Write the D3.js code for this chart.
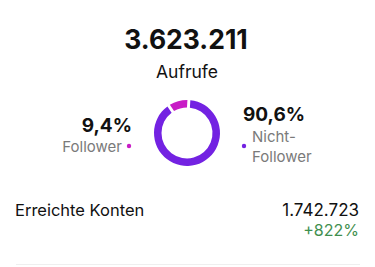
<!DOCTYPE html>
<html>
<head>
<meta charset="utf-8">
<script src="https://cdn.jsdelivr.net/npm/d3@7"></script>
<style>
html,body{margin:0;padding:0;background:#fff;}
svg{display:block;font-family:Inter,"Noto Sans",sans-serif;}
</style>
</head>
<body>
<svg id="chart" width="375" height="267"></svg>
<script>
const categories = ["Follower", "Nicht-Follower"];
const shares = [9.4, 90.6];
const shareLabels = ["9,4%", "90,6%"];
const colors = ["#c81cc6", "#7322e2"];
const totalViews = "3.623.211";
const totalLabel = "Aufrufe";
const reachLabel = "Erreichte Konten";
const reachValue = "1.742.723";
const reachChange = "+822%";

const svg = d3.select("#chart");
const cx = 187, cy = 133, rOuter = 33, rInner = 25.5;

svg.append("text").attr("x", cx - 1).attr("y", 49).attr("text-anchor", "middle")
  .attr("font-size", 26.5).attr("font-weight", 700).attr("fill", "#111").text(totalViews);
svg.append("text").attr("x", cx).attr("y", 78).attr("text-anchor", "middle")
  .attr("font-size", 17.5).attr("fill", "#111").text(totalLabel);

const start = -shares[0] / 100 * 2 * Math.PI;
const pie = d3.pie().sort(null).startAngle(start).endAngle(start + 2 * Math.PI).padAngle(0.07);
const arc = d3.arc().innerRadius(rInner).outerRadius(rOuter);
svg.append("g").attr("transform", `translate(${cx},${cy})`)
  .selectAll("path").data(pie(shares)).join("path")
  .attr("d", arc).attr("fill", (d, i) => colors[i]);

// Left label (Follower)
svg.append("text").attr("x", 132).attr("y", 132).attr("text-anchor", "end")
  .attr("font-size", 19).attr("font-weight", 700).attr("fill", "#111").text(shareLabels[0]);
svg.append("text").attr("x", 122).attr("y", 152).attr("text-anchor", "end")
  .attr("font-size", 15).attr("fill", "#7a7a7a").text(categories[0]);
svg.append("circle").attr("cx", 129).attr("cy", 146).attr("r", 2.2).attr("fill", colors[0]);

// Right label (Nicht-Follower)
svg.append("text").attr("x", 243).attr("y", 121)
  .attr("font-size", 19).attr("font-weight", 700).attr("fill", "#111").text(shareLabels[1]);
const parts = categories[1].split("-");
const t = svg.append("text").attr("x", 252).attr("y", 142).attr("font-size", 15).attr("fill", "#7a7a7a");
t.append("tspan").attr("x", 252).attr("y", 142).text(parts[0] + "-");
t.append("tspan").attr("x", 252).attr("y", 162).text(parts[1]);
svg.append("circle").attr("cx", 244).attr("cy", 146).attr("r", 2.2).attr("fill", colors[1]);

// Reach row
svg.append("text").attr("x", 15).attr("y", 216).attr("font-size", 16.5).attr("fill", "#111").text(reachLabel);
svg.append("text").attr("x", 359).attr("y", 216).attr("text-anchor", "end")
  .attr("font-size", 17).attr("fill", "#111").text(reachValue);
svg.append("text").attr("x", 359).attr("y", 236).attr("text-anchor", "end")
  .attr("font-size", 16).attr("fill", "#3f8f4f").text(reachChange);

svg.append("line").attr("x1", 16).attr("x2", 360).attr("y1", 264.5).attr("y2", 264.5)
  .attr("stroke", "#efefef").attr("stroke-width", 1);
</script>
</body>
</html>
